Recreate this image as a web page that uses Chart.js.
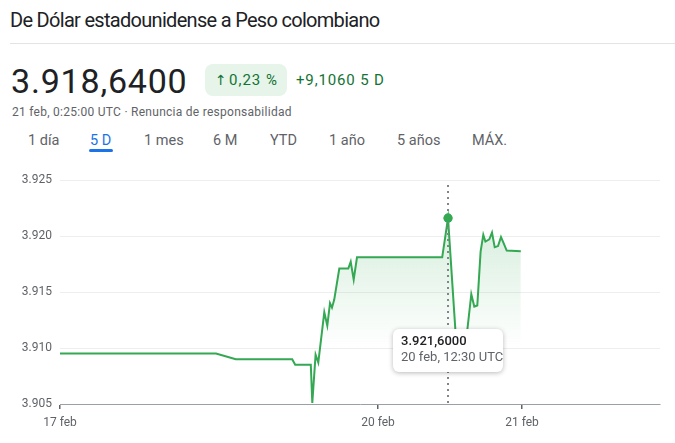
<!DOCTYPE html>
<html><head><meta charset="utf-8">
<script src="https://cdn.jsdelivr.net/npm/chart.js@4"></script>
<style>
body{margin:0;width:675px;height:443px;background:#fff;font-family:Roboto,Arial,sans-serif;position:relative;overflow:hidden}
.abs{position:absolute;white-space:nowrap}
#title{left:10px;top:8px;font-size:20px;line-height:24px;letter-spacing:-0.7px;color:#202124;}
#rule{left:10px;top:43px;width:665px;height:1px;background:#e3e3e3}
#price{left:11px;top:61px;font-size:34px;line-height:40px;letter-spacing:0.8px;color:#202124}
#badge{left:205px;top:64px;width:82px;height:32px;background:#e6f4ea;border-radius:8px;color:#137333;font-size:15px;line-height:32px;text-align:left}
#badge .ar{position:absolute;left:10px;top:0;font-family:"DejaVu Sans";font-size:14px}
#badge .pc{position:absolute;left:24px;top:0;letter-spacing:1px}
#chg{left:296px;top:64px;line-height:32px;font-size:15px;letter-spacing:0.85px;color:#137333}
#sub{left:12px;top:104px;font-size:12px;line-height:16px;letter-spacing:0.27px;color:#5f6368}
.tab{top:131px;font-size:14.5px;line-height:20px;color:#5f6368}
.tab.on{color:#1a73e8}
#uline{left:89px;top:149px;width:24px;height:3px;border-radius:2px;background:#1a73e8}
#wrap{left:0;top:160px;width:675px;height:283px}
</style></head>
<body>
<div class="abs" id="title">De Dólar estadounidense a Peso colombiano</div>
<div class="abs" id="rule"></div>
<div class="abs" id="price">3.918,6400</div>
<div class="abs" id="badge"><span class="ar">↑</span><span class="pc">0,23 %</span></div>
<div class="abs" id="chg">+9,1060 5 D</div>
<div class="abs" id="sub">21 feb, 0:25:00 UTC · Renuncia de responsabilidad</div>
<div id="tabs"></div>
<div class="abs" id="uline"></div>
<div class="abs" id="wrap"><canvas id="c" width="675" height="283"></canvas></div>
<script>
// ---- data ----
const timeIdx = [0, 26, 29.3, 38.7, 39.2, 41.8, 42.05, 42.6, 43.05, 44.05, 44.55, 45, 45.33, 45.7, 46.55, 48.05, 48.45, 48.95, 49.5, 63.7, 64.67, 65.95, 66.67, 67.8, 68.55, 69.05, 69.55, 70.1, 70.55, 70.9, 71.55, 72, 72.45, 73, 73.5, 73.9, 74.45, 76.8];
const rateCOP = [3909.5, 3909.5, 3909.0, 3909.0, 3908.5, 3908.5, 3905.1, 3909.4, 3908.7, 3913.2, 3912.0, 3914.0, 3913.6, 3914.3, 3917.1, 3917.1, 3917.7, 3916.1, 3918.1, 3918.1, 3921.6, 3911.2, 3909.0, 3911.2, 3914.8, 3913.7, 3913.8, 3918.6, 3920.1, 3919.5, 3919.7, 3920.3, 3919.0, 3919.1, 3919.9, 3919.4, 3918.7, 3918.64];
const xTickPos = [0, 53, 77];
const xTickLabels = ['17 feb', '20 feb', '21 feb'];
const yTickVals = [3905, 3910, 3915, 3920, 3925];
const yTickLabels = ['3.905', '3.910', '3.915', '3.920', '3.925'];
const hoverValueLabel = '3.921,6000';
const hoverTimeLabel = '20 feb, 12:30 UTC';
const tabLabels = ['1 día', '5 D', '1 mes', '6 M', 'YTD', '1 año', '5 años', 'MÁX.'];

// ---- tabs ----
const tabLeft = [28, 90, 144, 213, 270, 329, 397, 472];
const tabsEl = document.getElementById('tabs');
tabLabels.forEach((t, i) => {
  const s = document.createElement('div');
  s.className = 'abs tab' + (i === 1 ? ' on' : '');
  s.style.left = tabLeft[i] + 'px';
  s.textContent = t;
  tabsEl.appendChild(s);
});

const hoverIdx = rateCOP.indexOf(Math.max(...rateCOP));
const GREEN = '#34a853';

const hoverPlugin = {
  id: 'hover',
  afterDatasetsDraw(chart) {
    const ctx = chart.ctx, ca = chart.chartArea;
    const el = chart.getDatasetMeta(0).data[hoverIdx];
    ctx.save();
    ctx.strokeStyle = '#80868b';
    ctx.lineWidth = 2;
    ctx.setLineDash([2, 4]);
    ctx.beginPath();
    ctx.moveTo(el.x, ca.top + 5);
    ctx.lineTo(el.x, ca.bottom);
    ctx.stroke();
    ctx.restore();
    el.draw(ctx);
  },
  afterDraw(chart) {
    const ctx = chart.ctx, ca = chart.chartArea;
    const el = chart.getDatasetMeta(0).data[hoverIdx];
    const w = 110, h = 43;
    const left = el.x - w / 2, top = ca.bottom - 75;
    ctx.save();
    ctx.shadowColor = 'rgba(0,0,0,0.28)';
    ctx.shadowBlur = 5;
    ctx.shadowOffsetY = 1;
    ctx.fillStyle = '#fff';
    ctx.beginPath();
    ctx.roundRect(left, top, w, h, 6);
    ctx.fill();
    ctx.restore();
    ctx.save();
    ctx.textBaseline = 'middle';
    ctx.fillStyle = '#202124';
    ctx.font = '500 13px Roboto';
    ctx.fillText(hoverValueLabel, left + 8, top + 13);
    ctx.fillStyle = '#5f6368';
    ctx.font = '13px Roboto';
    ctx.fillText(hoverTimeLabel, left + 8, top + 29);
    ctx.restore();
  }
};

new Chart(document.getElementById('c'), {
  type: 'line',
  data: {
    datasets: [{
      data: timeIdx.map((x, i) => ({ x: x, y: rateCOP[i] })),
      borderColor: GREEN,
      borderWidth: 2,
      tension: 0,
      fill: 'start',
      backgroundColor: (c) => {
        const ca = c.chart.chartArea;
        if (!ca) return 'rgba(52,168,83,0.1)';
        const g = c.chart.ctx.createLinearGradient(0, ca.top, 0, ca.bottom);
        g.addColorStop(0, 'rgba(52,168,83,0.26)');
        g.addColorStop(0.75, 'rgba(52,168,83,0)');
        g.addColorStop(1, 'rgba(52,168,83,0)');
        return g;
      },
      pointRadius: (c) => c.dataIndex === hoverIdx ? 4.5 : 0,
      pointBackgroundColor: GREEN,
      pointBorderWidth: 0,
      pointHoverRadius: 0
    }]
  },
  options: {
    responsive: false,
    animation: false,
    events: [],
    layout: { padding: { top: 20, right: 15, left: 0, bottom: 0 } },
    plugins: { legend: { display: false }, tooltip: { enabled: false } },
    scales: {
      x: {
        type: 'linear', min: 0, max: 100,
        afterBuildTicks: (s) => { s.ticks = xTickPos.map(v => ({ value: v })); },
        afterFit: (s) => { s.height = 39; },
        ticks: {
          autoSkip: false, maxRotation: 0, padding: 7, color: '#5f6368',
          font: { family: 'Roboto', size: 12 },
          callback: (v) => xTickLabels[xTickPos.indexOf(v)]
        },
        grid: { drawOnChartArea: false, drawTicks: true, tickLength: 5, color: '#5f6368', lineWidth: 1.5 },
        border: { display: true, color: '#9aa0a6', width: 1 }
      },
      y: {
        min: 3905, max: 3925,
        afterBuildTicks: (s) => { s.ticks = yTickVals.map(v => ({ value: v })); },
        afterFit: (s) => { s.width = 60; },
        ticks: {
          padding: 8, color: '#5f6368',
          font: { family: 'Roboto', size: 12 },
          callback: (v) => yTickLabels[yTickVals.indexOf(v)]
        },
        grid: { drawTicks: false, color: (c) => c.tick && c.tick.value === 3905 ? 'rgba(0,0,0,0)' : '#eceef0' },
        border: { display: false }
      }
    }
  },
  plugins: [hoverPlugin]
});
</script>
</body></html>
